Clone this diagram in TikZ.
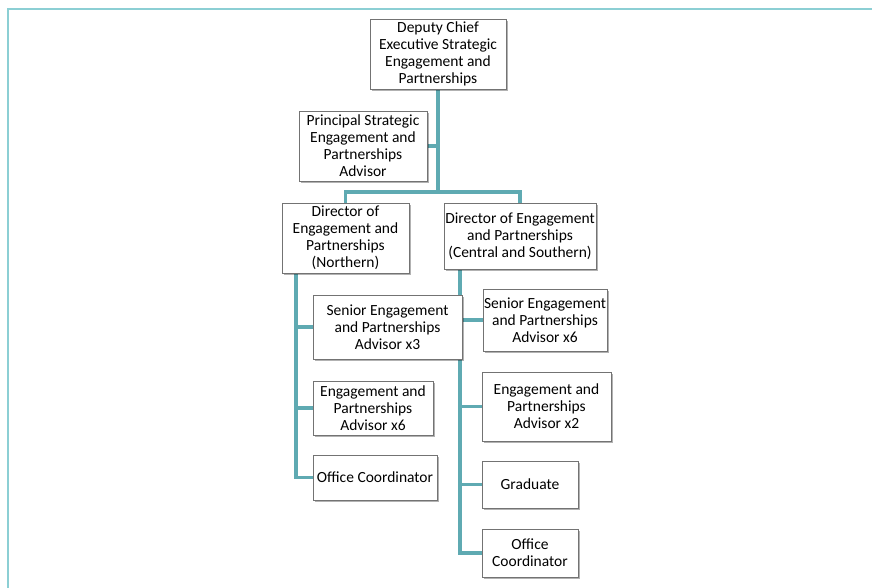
\documentclass[tikz,border=0pt]{standalone}
\usepackage{fontspec}
\setmainfont{Carlito}
\usetikzlibrary{shadows,backgrounds}
\definecolor{frameC}{HTML}{8CCFD4}
\definecolor{linkC}{HTML}{5FAAB2}
\begin{document}
\begin{tikzpicture}[x=1pt,y=-1pt,
  box/.style={draw=black!55, line width=0.8pt, fill=white, align=center, inner sep=0pt,
    font=\fontsize{15.5}{17}\selectfont,
    drop shadow={shadow xshift=1.5pt, shadow yshift=-1.8pt, fill=black, opacity=0.3}},
  link/.style={draw=linkC, line width=3.6pt, line join=miter, line cap=rect},
  frame/.style={draw=frameC, line width=2pt}]
\useasboundingbox (0,0) rectangle (872,588);
\node[box, minimum width=136pt, minimum height=70pt] (dce) at (438,54) {Deputy Chief\\Executive Strategic\\Engagement and\\Partnerships};
\node[box, minimum width=128pt, minimum height=70pt] (psa) at (363,146) {Principal Strategic\\Engagement and\\Partnerships\\Advisor};
\node[box, minimum width=127pt, minimum height=70pt] (dn) at (345.5,238) {Director of\\Engagement and\\Partnerships\\(Northern)};
\node[box, minimum width=152pt, minimum height=66pt] (dc) at (520,236) {Director of Engagement\\and Partnerships\\(Central and Southern)};
\node[box, minimum width=149pt, minimum height=64pt] (s3) at (387.5,327) {Senior Engagement\\and Partnerships\\Advisor x3};
\node[box, minimum width=124pt, minimum height=62pt] (s6) at (545,320) {Senior Engagement\\and Partnerships\\Advisor x6};
\node[box, minimum width=120pt, minimum height=54pt] (e6) at (373,408) {Engagement and\\Partnerships\\Advisor x6};
\node[box, minimum width=124pt, minimum height=45pt] (ocn) at (375,477.5) {Office Coordinator};
\node[box, minimum width=129pt, minimum height=69pt] (e2) at (546.5,406.5) {Engagement and\\Partnerships\\Advisor x2};
\node[box, minimum width=96pt, minimum height=47pt] (gr) at (530,484.5) {Graduate};
\node[box, minimum width=96pt, minimum height=48pt] (occ) at (530,553) {Office\\Coordinator};
\coordinate (j1) at (438,192);
\coordinate (nt) at (296,273);
\coordinate (ct) at (460,269);
\begin{scope}[on background layer]
\draw[frame] (872,9) -- (8,9) -- (8,588);
\draw[link] (dce.south) -- (j1);
\draw[link] (psa.east) -- (psa.east -| dce.south);
\draw[link] (dn.north) -- (dn.north |- j1) -- (dc.north |- j1) -- (dc.north);
\draw[link] (nt) |- (ocn.west);
\draw[link] (s3.west -| nt) -- (s3.west);
\draw[link] (e6.west -| nt) -- (e6.west);
\draw[link] (ct) |- (occ.west);
\draw[link] (s6.west -| ct) -- (s6.west);
\draw[link] (e2.west -| ct) -- (e2.west);
\draw[link] (gr.west -| ct) -- (gr.west);
\end{scope}
\end{tikzpicture}
\end{document}
